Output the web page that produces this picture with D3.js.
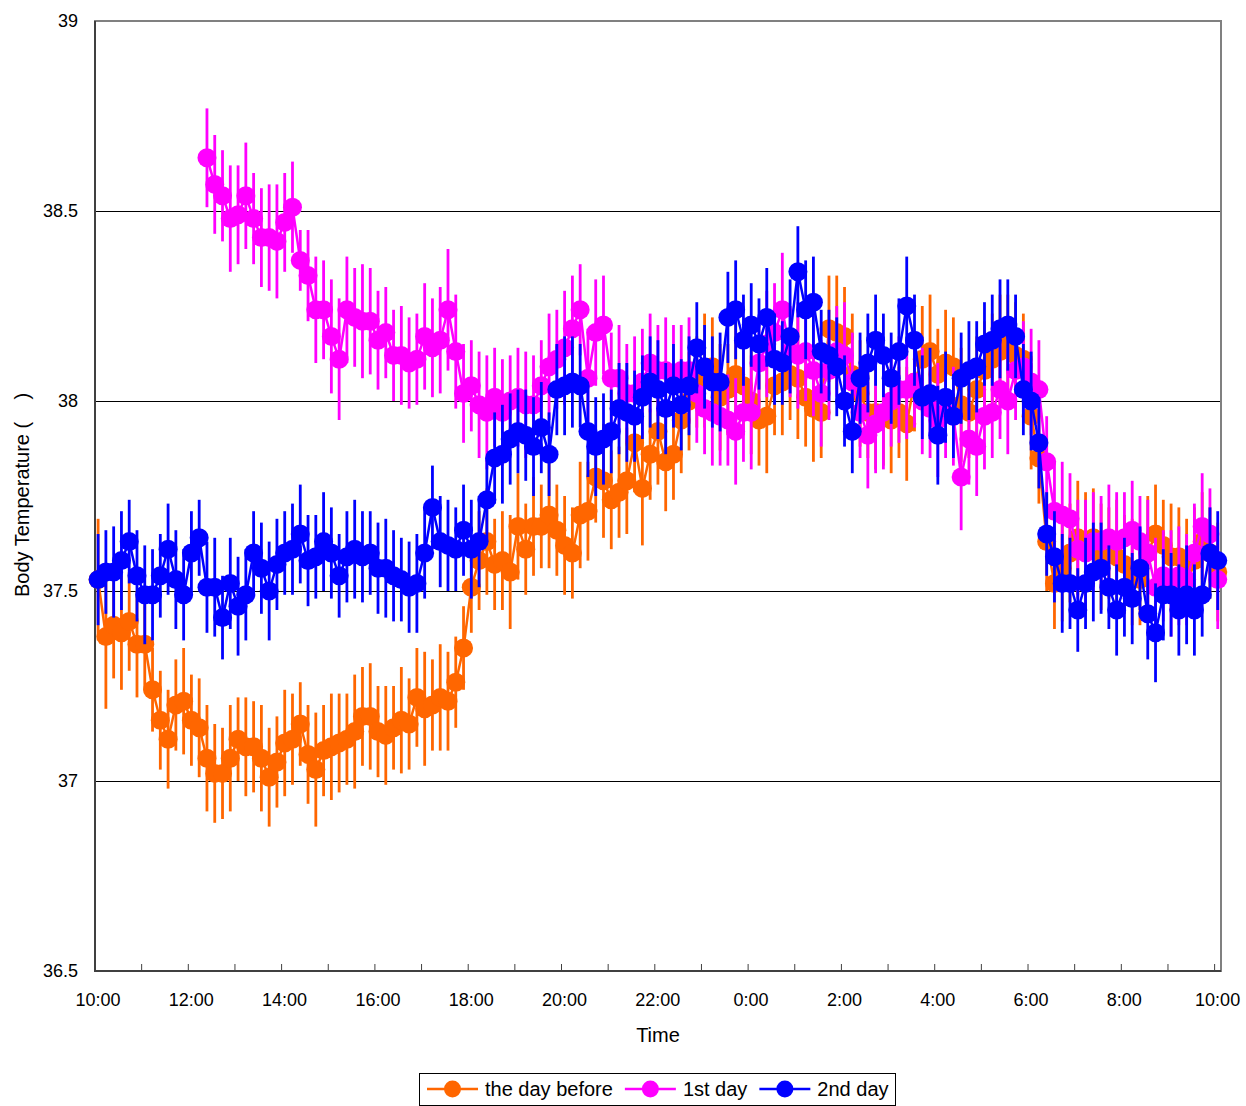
<!DOCTYPE html>
<html><head><meta charset="utf-8">
<script src="https://cdn.jsdelivr.net/npm/d3@7"></script>
<style>html,body{margin:0;padding:0;background:#fff;}svg{display:block;font-family:Arial,"Liberation Sans",sans-serif;}</style>
</head><body><div id="chart"></div>
<script>
// ---- data ----
const seriesNames = ["the day before", "1st day", "2nd day"];
const seriesColors = ["#FF6600", "#FF00FF", "#0000FF"];
// sample times: minutes after 10:00 (every 10 min)
const sampleMinutes = d3.range(145).map(i => 4 + 10 * i);
const xTickLabels = ["10:00","12:00","14:00","16:00","18:00","20:00","22:00","0:00","2:00","4:00","6:00","8:00","10:00"];
const yTickValues = [36.5, 37, 37.5, 38, 38.5, 39];

const dayBefore = [
37.53,37.38,37.41,37.39,37.42,37.36,37.36,37.24,37.16,37.11,37.20,37.21,
37.16,37.14,37.06,37.02,37.02,37.06,37.11,37.09,37.09,37.06,37.01,37.05,
37.10,37.11,37.15,37.07,37.03,37.08,37.09,37.10,37.11,37.13,37.17,37.17,
37.13,37.12,37.14,37.16,37.15,37.22,37.19,37.20,37.22,37.21,37.26,37.35,
37.51,37.58,37.63,37.57,37.58,37.55,37.67,37.61,37.67,37.67,37.70,37.66,
37.62,37.60,37.70,37.71,37.80,37.79,37.74,37.76,37.79,37.89,37.77,37.86,
37.92,37.84,37.86,37.95,38.00,38.05,38.08,38.09,38.01,38.03,38.07,38.04,
38.00,37.95,37.96,38.04,38.05,38.07,38.06,38.01,37.98,37.97,38.19,38.18,
38.17,38.07,38.02,37.97,37.97,37.96,37.95,37.97,37.94,38.05,38.11,38.13,
38.07,38.10,38.09,37.99,37.97,38.03,38.08,38.11,38.13,38.15,38.12,38.11,
37.96,37.85,37.63,37.52,37.56,37.60,37.64,37.62,37.64,37.59,37.60,37.59,
37.57,37.55,37.53,37.60,37.65,37.62,37.59,37.59,37.57,37.58,37.63,37.60,
37.55];
const firstDay = [
null,null,null,null,null,null,null,null,null,null,null,null,null,null,
38.64,38.57,38.54,38.48,38.49,38.54,38.48,38.43,38.43,38.42,38.47,38.51,
38.37,38.33,38.24,38.24,38.17,38.11,38.24,38.22,38.21,38.21,38.16,38.18,
38.12,38.12,38.10,38.11,38.17,38.14,38.16,38.24,38.13,38.02,38.04,37.99,
37.97,38.01,37.97,38.00,38.01,37.99,37.99,38.04,38.09,38.11,38.14,38.19,
38.24,38.06,38.18,38.20,38.06,38.06,38.02,38.02,38.05,38.10,38.08,38.08,
38.07,38.08,38.08,38.02,37.98,37.97,37.96,37.95,37.92,37.97,37.97,38.10,
38.15,38.18,38.24,38.13,38.12,38.13,38.08,38.02,38.08,38.13,38.12,38.05,
37.97,37.91,37.94,37.97,38.00,38.03,38.03,38.05,38.00,37.98,37.95,37.97,
37.96,37.80,37.90,37.88,37.96,37.97,38.03,38.00,38.08,38.09,38.05,38.03,
37.84,37.71,37.70,37.69,37.61,37.60,37.63,37.63,37.64,37.63,37.64,37.66,
37.63,37.60,37.51,37.54,37.52,37.54,37.53,37.60,37.67,37.65,37.53];
const secondDay = [
37.53,37.55,37.55,37.58,37.63,37.54,37.49,37.49,37.54,37.61,37.53,37.49,
37.60,37.64,37.51,37.51,37.43,37.52,37.46,37.49,37.60,37.56,37.50,37.57,
37.60,37.61,37.65,37.58,37.59,37.63,37.60,37.54,37.59,37.61,37.59,37.60,
37.56,37.56,37.54,37.53,37.51,37.52,37.60,37.72,37.63,37.62,37.61,37.66,
37.61,37.63,37.74,37.85,37.86,37.90,37.92,37.91,37.88,37.93,37.86,38.03,
38.04,38.05,38.04,37.92,37.88,37.90,37.92,37.98,37.97,37.96,38.01,38.05,
38.03,37.98,38.04,37.99,38.04,38.14,38.09,38.05,38.05,38.22,38.24,38.16,
38.20,38.15,38.22,38.11,38.10,38.17,38.34,38.24,38.26,38.13,38.12,38.09,
38.00,37.92,38.06,38.10,38.16,38.12,38.06,38.13,38.25,38.16,38.01,38.02,
37.91,38.01,37.96,38.06,38.08,38.09,38.15,38.16,38.19,38.20,38.17,38.03,
38.00,37.89,37.65,37.59,37.52,37.52,37.45,37.52,37.55,37.56,37.51,37.45,
37.51,37.48,37.56,37.44,37.39,37.49,37.49,37.45,37.49,37.45,37.49,37.60,
37.58];

const errDayBefore = [
0.16,0.19,0.14,0.15,0.13,0.14,0.12,0.11,0.13,0.13,0.12,0.14,
0.12,0.13,0.14,0.13,0.12,0.14,0.11,0.13,0.12,0.14,0.13,0.12,
0.14,0.12,0.11,0.13,0.15,0.12,0.14,0.13,0.12,0.15,0.13,0.14,
0.12,0.13,0.11,0.14,0.12,0.13,0.15,0.12,0.14,0.13,0.12,0.11,
0.12,0.13,0.14,0.12,0.13,0.15,0.14,0.12,0.13,0.11,0.14,0.12,
0.13,0.12,0.14,0.13,0.12,0.15,0.13,0.12,0.14,0.13,0.15,0.12,
0.14,0.13,0.12,0.14,0.13,0.12,0.15,0.13,0.14,0.12,0.16,0.13,
0.14,0.12,0.15,0.13,0.14,0.12,0.16,0.13,0.14,0.12,0.14,0.15,
0.13,0.16,0.14,0.12,0.15,0.13,0.14,0.12,0.15,0.13,0.14,0.15,
0.12,0.14,0.13,0.15,0.12,0.14,0.13,0.12,0.15,0.13,0.14,0.12,
0.14,0.12,0.13,0.12,0.14,0.13,0.15,0.14,0.13,0.14,0.12,0.15,
0.13,0.14,0.12,0.15,0.13,0.12,0.14,0.13,0.12,0.14,0.13,0.12,
0.13];
const errFirstDay = [
null,null,null,null,null,null,null,null,null,null,null,null,null,null,
0.13,0.13,0.12,0.14,0.13,0.14,0.12,0.13,0.14,0.15,0.13,0.12,
0.08,0.12,0.14,0.13,0.15,0.16,0.14,0.13,0.15,0.14,0.13,0.12,
0.12,0.13,0.12,0.12,0.14,0.13,0.14,0.16,0.15,0.13,0.12,0.14,
0.15,0.13,0.14,0.12,0.13,0.14,0.13,0.12,0.14,0.13,0.15,0.14,
0.12,0.13,0.14,0.13,0.12,0.14,0.13,0.15,0.14,0.13,0.12,0.14,
0.13,0.12,0.14,0.13,0.12,0.14,0.13,0.12,0.14,0.13,0.15,0.12,
0.14,0.13,0.15,0.12,0.14,0.13,0.12,0.14,0.13,0.12,0.14,0.13,
0.12,0.14,0.13,0.15,0.12,0.14,0.13,0.12,0.14,0.13,0.15,0.12,
0.13,0.14,0.12,0.13,0.14,0.12,0.13,0.14,0.13,0.12,0.14,0.13,
0.12,0.13,0.14,0.12,0.13,0.14,0.13,0.12,0.14,0.13,0.12,0.13,
0.12,0.14,0.13,0.12,0.14,0.13,0.12,0.13,0.14,0.12,0.13];
const errSecondDay = [
0.12,0.11,0.12,0.13,0.11,0.12,0.13,0.12,0.11,0.12,0.13,0.12,
0.11,0.10,0.12,0.13,0.11,0.12,0.13,0.12,0.11,0.12,0.13,0.12,
0.11,0.12,0.13,0.12,0.11,0.13,0.12,0.11,0.12,0.13,0.12,0.11,
0.12,0.13,0.12,0.11,0.12,0.13,0.12,0.11,0.12,0.12,0.11,0.12,
0.13,0.12,0.11,0.12,0.13,0.12,0.11,0.12,0.13,0.12,0.11,0.12,
0.13,0.12,0.11,0.12,0.13,0.12,0.11,0.12,0.13,0.12,0.11,0.12,
0.13,0.12,0.11,0.12,0.13,0.12,0.11,0.12,0.13,0.12,0.13,0.12,
0.11,0.12,0.13,0.12,0.11,0.15,0.12,0.13,0.12,0.11,0.12,0.13,
0.12,0.11,0.12,0.13,0.12,0.11,0.12,0.14,0.13,0.12,0.11,0.12,
0.13,0.12,0.11,0.12,0.13,0.12,0.11,0.12,0.13,0.12,0.11,0.12,
0.13,0.12,0.11,0.12,0.13,0.12,0.11,0.12,0.13,0.12,0.11,0.12,
0.13,0.12,0.11,0.12,0.13,0.12,0.11,0.12,0.13,0.12,0.11,0.12,
0.13];

const seriesValues = [dayBefore, firstDay, secondDay];
const seriesErrors = [errDayBefore, errFirstDay, errSecondDay];

// ---- layout ----
const W = 1246, H = 1106;
const L = 95, R = 1221, T = 21, B = 971;
const svg = d3.select("#chart").append("svg").attr("width", W).attr("height", H);
svg.append("rect").attr("width", W).attr("height", H).attr("fill", "#fff");

const x = d3.scaleLinear().domain([0, 1448.2]).range([L, R]);
const y = d3.scaleLinear().domain([36.5, 39]).range([B, T]);

// gridlines
svg.append("g").selectAll("line").data([37, 37.5, 38, 38.5]).join("line")
  .attr("x1", L).attr("x2", R).attr("y1", d => y(d)).attr("y2", d => y(d))
  .attr("stroke", "#000").attr("stroke-width", 1).attr("shape-rendering", "crispEdges");

// plot frame
svg.append("rect").attr("x", L).attr("y", T).attr("width", R - L).attr("height", B - T)
  .attr("fill", "none").attr("stroke", "#808080").attr("stroke-width", 2);
svg.append("line").attr("x1", L).attr("x2", L).attr("y1", T).attr("y2", B + 1)
  .attr("stroke", "#404040").attr("stroke-width", 2);
svg.append("line").attr("x1", L).attr("x2", R).attr("y1", B).attr("y2", B)
  .attr("stroke", "#404040").attr("stroke-width", 2);

// x ticks (hourly, inside)
svg.append("g").selectAll("line").data(d3.range(25)).join("line")
  .attr("x1", h => x(h * 60)).attr("x2", h => x(h * 60))
  .attr("y1", B).attr("y2", B - 7).attr("stroke", "#404040").attr("stroke-width", 1);
svg.append("g").selectAll("text").data(xTickLabels).join("text")
  .attr("x", (d, i) => x(i * 120) + 3).attr("y", 1006)
  .attr("text-anchor", "middle").attr("font-size", 18).attr("fill", "#000").text(d => d);

// y labels
svg.append("g").selectAll("text").data(yTickValues).join("text")
  .attr("x", 78).attr("y", d => y(d) + 6)
  .attr("text-anchor", "end").attr("font-size", 18).attr("fill", "#000")
  .text(d => d3.format("")(d));

// axis titles
svg.append("text").attr("x", 658).attr("y", 1042).attr("text-anchor", "middle")
  .attr("font-size", 20).text("Time");
svg.append("text").attr("transform", "translate(29,495) rotate(-90)")
  .attr("text-anchor", "middle").attr("font-size", 20)
  .text("Body Temperature (\u00a0\u00a0\u00a0\u00a0)");

// series
const line = d3.line().defined(d => d.v != null).x(d => x(d.m)).y(d => y(d.v));
seriesValues.forEach((vals, s) => {
  const data = vals.map((v, i) => ({ m: sampleMinutes[i], v: v, e: seriesErrors[s][i] }));
  const pts = data.filter(d => d.v != null);
  const g = svg.append("g");
  g.selectAll("line").data(pts).join("line")
    .attr("x1", d => x(d.m)).attr("x2", d => x(d.m))
    .attr("y1", d => y(d.v - d.e)).attr("y2", d => y(d.v + d.e))
    .attr("stroke", seriesColors[s]).attr("stroke-width", 2.8);
  g.append("path").datum(data).attr("d", line)
    .attr("fill", "none").attr("stroke", seriesColors[s]).attr("stroke-width", 2.5);
  g.selectAll("circle").data(pts).join("circle")
    .attr("cx", d => x(d.m)).attr("cy", d => y(d.v)).attr("r", 9.5)
    .attr("fill", seriesColors[s]);
});

// legend
const lg = svg.append("g");
const box = lg.append("rect").attr("x", 419.5).attr("y", 1073.5).attr("width", 476).attr("height", 32)
  .attr("fill", "#fff").attr("stroke", "#000").attr("stroke-width", 1);
let lx = 427;
seriesNames.forEach((name, s) => {
  lg.append("line").attr("x1", lx).attr("x2", lx + 51).attr("y1", 1089).attr("y2", 1089)
    .attr("stroke", seriesColors[s]).attr("stroke-width", 2.5);
  lg.append("circle").attr("cx", lx + 25.5).attr("cy", 1089).attr("r", 8.5).attr("fill", seriesColors[s]);
  const t = lg.append("text").attr("x", lx + 58).attr("y", 1096).attr("font-size", 20).text(name);
  lx = lx + 58 + t.node().getComputedTextLength() + 12;
});
</script>
</body></html>
